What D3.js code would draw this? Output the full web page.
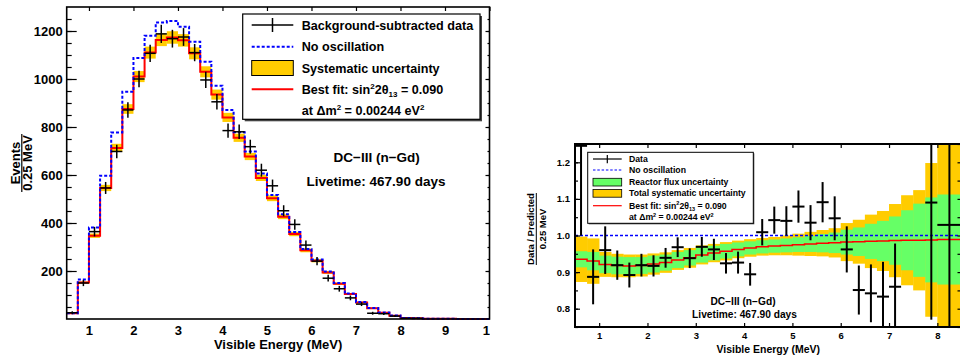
<!DOCTYPE html>
<html lang="en">
<head>
<meta charset="utf-8">
<title>DC-III (n-Gd) spectrum and ratio</title>
<script src="https://cdn.jsdelivr.net/npm/d3@7"></script>
<style>
  body { margin: 0; background: #fff; }
  svg { display: block; }
  text { font-family: "Liberation Sans", Arial, Helvetica, sans-serif; font-weight: bold; fill: #000; }
</style>
</head>
<body>
<script>
// ---- left panel: spectrum, 0.25 MeV bins ----
const leftEdges = [0.5, 0.75, 1, 1.25, 1.5, 1.75, 2, 2.25, 2.5, 2.75, 3, 3.25, 3.5, 3.75, 4, 4.25,
  4.5, 4.75, 5, 5.25, 5.5, 5.75, 6, 6.25, 6.5, 6.75, 7, 7.25, 7.5, 7.75, 8, 8.25, 8.5, 8.75,
  9, 9.25, 9.5, 9.75, 10];
const bestFit = [24, 152, 347, 546, 713, 875, 1010, 1110, 1163, 1173, 1161, 1107, 1030, 935, 840, 755,
  677, 588, 503, 426, 354, 286, 243, 194, 147, 104, 69, 45, 26, 14, 4, 3, 1, 1, 1, 0.5, 0.5, 0.5];
const noOsc = [24, 165, 381, 597, 777, 947, 1088, 1180, 1235, 1242, 1218, 1155, 1072, 972, 871, 778,
  698, 606, 517, 436, 362, 292, 248, 198, 150, 106, 71, 46, 27, 15, 4.5, 3, 1, 1, 1, 0.5, 0.5, 0.5];
const sysErr = [1, 4, 9, 13, 17, 20, 23, 25, 26, 26, 26, 25, 23, 21, 19, 17,
  15, 13, 12, 10, 9, 8, 7, 6, 5, 4, 3.5, 3, 2.5, 2, 1, 1, 0.5, 0.5, 0.5, 0.5, 0.5, 0.5];
const dataVals = [26, 150, 364, 546, 698, 871, 1000, 1107, 1188, 1168, 1175, 1110, 996, 905, 785, 780,
  718, 620, 555, 451, 394, 308, 241, 170, 126, 88, 62, 24, 22, 12, 3, 3, null, null, null, null, null, null];
const dataErr = [6, 13, 20, 25, 28, 32, 34, 36, 38, 37, 37, 36, 34, 32, 30, 30,
  29, 27, 26, 23, 22, 19, 17, 14, 12, 10, 8, 6, 5, 4, 2.5, 2, null, null, null, null, null, null];
const leftYTicks = [200, 400, 600, 800, 1000, 1200];
const leftXTicks = [1, 2, 3, 4, 5, 6, 7, 8, 9, 10];

// ---- right panel: ratio to no-oscillation prediction ----
const ratioEdges = [0.5, 0.75, 1, 1.25, 1.5, 1.75, 2, 2.25, 2.5, 2.75, 3, 3.25, 3.5, 3.75, 4, 4.25,
  4.5, 4.75, 5, 5.25, 5.5, 5.75, 6, 6.25, 6.5, 6.75, 7, 7.25, 7.5, 7.75, 8, 8.5];
const ratioFit = [0.935, 0.930, 0.921, 0.918, 0.917, 0.918, 0.922, 0.926, 0.933, 0.939, 0.947, 0.952,
  0.957, 0.962, 0.966, 0.969, 0.971, 0.973, 0.975, 0.977, 0.979, 0.980, 0.982, 0.983, 0.984, 0.985,
  0.986, 0.987, 0.987, 0.988, 0.989];
const fluxErr = [0.022, 0.025, 0.024, 0.024, 0.024, 0.023, 0.023, 0.022, 0.022, 0.021, 0.021, 0.020,
  0.020, 0.019, 0.018, 0.018, 0.018, 0.019, 0.020, 0.022, 0.025, 0.028, 0.034, 0.039, 0.048, 0.055,
  0.066, 0.082, 0.100, 0.116, 0.123];
const totalErr = [0.062, 0.062, 0.034, 0.032, 0.031, 0.030, 0.029, 0.028, 0.027, 0.027, 0.026, 0.025,
  0.025, 0.024, 0.024, 0.024, 0.025, 0.027, 0.030, 0.033, 0.036, 0.040, 0.052, 0.060, 0.073, 0.082,
  0.100, 0.123, 0.137, 0.210, 0.400];
const ratioData = [1.245, 0.887, 0.960, 0.919, 0.892, 0.919, 0.917, 0.939, 0.968, 0.938, 0.969, 0.962,
  0.924, 0.926, 0.894, 1.009, 1.042, 1.040, 1.079, 1.035, 1.091, 1.047, 0.962, 0.851, 0.842, 0.833,
  0.860, null, null, 1.090, 1.029];
const ratioErr = [0.245, 0.075, 0.065, 0.040, 0.034, 0.031, 0.029, 0.027, 0.027, 0.027, 0.027, 0.029,
  0.028, 0.030, 0.031, 0.036, 0.037, 0.040, 0.044, 0.048, 0.055, 0.060, 0.063, 0.067, 0.079, 0.095,
  0.118, null, null, 0.320, 0.400];
const rightYTicks = [0.8, 0.9, 1.0, 1.1, 1.2];
const rightXTicks = [1, 2, 3, 4, 5, 6, 7, 8];

const YELLOW = "#ffcc00", GREEN = "#66ff66", RED = "#ff0000", BLUE = "#0000ff";

const svg = d3.select("body").append("svg")
  .attr("width", 960)
  .attr("height", 358);

const defs = svg.append("defs");
defs.append("clipPath").attr("id", "clipLeftLabels")
  .append("rect").attr("x", 0).attr("y", 0).attr("width", 490).attr("height", 358);
defs.append("clipPath").attr("id", "clipRight")
  .append("rect").attr("x", 575).attr("y", 144).attr("width", 387).attr("height", 183);

// step outline of a histogram through the scales
function stepPath(edges, vals, x, y) {
  const pts = edges.map((e, i) => [e, vals[Math.min(i, vals.length - 1)]]);
  return d3.line().curve(d3.curveStepAfter).x(d => x(d[0])).y(d => y(d[1]))(pts);
}

function styleAxis(g, family, size) {
  g.select(".domain").remove();
  g.selectAll(".tick line").attr("stroke", "#000").attr("stroke-width", 1.2);
  g.attr("font-family", family).attr("font-size", size).attr("font-weight", "bold");
}

// ================= LEFT PANEL =================
const xL = d3.scaleLinear().domain([0.5, 10]).range([66.7, 489.5]);
const yL = d3.scaleLinear().domain([0, 1300]).range([319, 7]);
const gL = svg.append("g");

const binsL = bestFit.map((v, i) => ({
  lo: leftEdges[i], hi: leftEdges[i + 1], fit: v, sys: sysErr[i], data: dataVals[i], err: dataErr[i]
}));

gL.selectAll("rect.sys")
  .data(binsL)
  .enter()
  .append("rect")
  .attr("class", "sys")
  .attr("x", d => xL(d.lo))
  .attr("width", d => xL(d.hi) - xL(d.lo))
  .attr("y", d => yL(d.fit + d.sys))
  .attr("height", d => yL(d.fit - d.sys) - yL(d.fit + d.sys))
  .attr("fill", YELLOW);

gL.append("path")
  .attr("d", stepPath(leftEdges, bestFit, xL, yL))
  .attr("fill", "none").attr("stroke", RED).attr("stroke-width", 2);

gL.append("path")
  .attr("d", stepPath(leftEdges, noOsc, xL, yL))
  .attr("fill", "none").attr("stroke", BLUE).attr("stroke-width", 2)
  .attr("stroke-dasharray", "3,2");

// data crosses
const crossL = gL.selectAll("g.pt")
  .data(binsL.filter(d => d.data !== null))
  .enter()
  .append("g").attr("class", "pt");
crossL.append("line")
  .attr("x1", d => xL(d.lo)).attr("x2", d => xL(d.hi))
  .attr("y1", d => yL(d.data)).attr("y2", d => yL(d.data))
  .attr("stroke", "#000").attr("stroke-width", 1.5);
crossL.append("line")
  .attr("x1", d => xL((d.lo + d.hi) / 2)).attr("x2", d => xL((d.lo + d.hi) / 2))
  .attr("y1", d => yL(d.data - d.err)).attr("y2", d => yL(d.data + d.err))
  .attr("stroke", "#000").attr("stroke-width", 1.5);

// axes (ROOT style: ticks inside, on all four sides)
gL.append("g").attr("transform", `translate(${xL(0.5)},0)`)
  .call(d3.axisLeft(yL).tickValues(d3.range(50, 1300, 50)).tickSize(-5).tickFormat(""))
  .call(g => styleAxis(g, "DejaVu Sans", 13));
gL.append("g").attr("transform", `translate(${xL(0.5)},0)`)
  .call(d3.axisLeft(yL).tickValues(leftYTicks).tickSize(-10).tickPadding(4).tickFormat(d3.format("d")))
  .call(g => styleAxis(g, "DejaVu Sans", 13));
gL.append("g").attr("transform", `translate(${xL(10)},0)`)
  .call(d3.axisRight(yL).tickValues(d3.range(50, 1300, 50)).tickSize(-2).tickFormat(""))
  .call(g => styleAxis(g, "DejaVu Sans", 13));
gL.append("g").attr("transform", `translate(${xL(10)},0)`)
  .call(d3.axisRight(yL).tickValues(leftYTicks).tickSize(-4).tickFormat(""))
  .call(g => styleAxis(g, "DejaVu Sans", 13));
gL.append("g").attr("transform", `translate(0,${yL(1300)})`)
  .call(d3.axisTop(xL).tickValues(leftXTicks).tickSize(-4).tickFormat(""))
  .call(g => styleAxis(g, "DejaVu Sans", 13));
gL.append("g").attr("transform", `translate(0,${yL(0)})`)
  .attr("clip-path", "url(#clipLeftLabels)")
  .call(d3.axisBottom(xL).tickValues(leftXTicks).tickSize(-4).tickPadding(7).tickFormat(d3.format("d")))
  .call(g => styleAxis(g, "DejaVu Sans", 13));

gL.append("rect")
  .attr("x", xL(0.5)).attr("y", yL(1300))
  .attr("width", xL(10) - xL(0.5)).attr("height", yL(0) - yL(1300))
  .attr("fill", "none").attr("stroke", "#000").attr("stroke-width", 1.6);

// axis titles
gL.append("text").attr("x", (xL(0.5) + xL(10)) / 2).attr("y", 349)
  .attr("text-anchor", "middle").attr("font-size", 13).text("Visible Energy (MeV)");
const ytL = gL.append("g").attr("transform", "translate(0,163) rotate(-90)");
ytL.append("text").attr("x", 0).attr("y", 20).attr("text-anchor", "middle")
  .attr("font-size", 13).text("Events");
ytL.append("line").attr("x1", -29).attr("x2", 29).attr("y1", 21.8).attr("y2", 21.8)
  .attr("stroke", "#000").attr("stroke-width", 1.2);
ytL.append("text").attr("x", 0).attr("y", 32).attr("text-anchor", "middle")
  .attr("font-size", 13).text("0.25 MeV");

gL.append("text").attr("x", 376.7).attr("y", 161.5).attr("text-anchor", "middle")
  .attr("font-size", 13.5).text("DC\u2212III (n\u2212Gd)");
gL.append("text").attr("x", 376).attr("y", 185.5).attr("text-anchor", "middle")
  .attr("font-size", 13.5).text("Livetime: 467.90 days");

// legend
const lgL = gL.append("g");
lgL.append("rect").attr("x", 244.7).attr("y", 16).attr("width", 237.3).attr("height", 105.3).attr("fill", "#444");
lgL.append("rect").attr("x", 242.7).attr("y", 14).attr("width", 237.3).attr("height", 105.3)
  .attr("fill", "#fff").attr("stroke", "#000").attr("stroke-width", 1.2);
lgL.append("line").attr("x1", 251.7).attr("x2", 293.3).attr("y1", 25).attr("y2", 25).attr("stroke", "#000").attr("stroke-width", 1.5);
lgL.append("line").attr("x1", 272.5).attr("x2", 272.5).attr("y1", 18).attr("y2", 32).attr("stroke", "#000").attr("stroke-width", 1.5);
lgL.append("line").attr("x1", 251.7).attr("x2", 293.3).attr("y1", 46.7).attr("y2", 46.7)
  .attr("stroke", BLUE).attr("stroke-width", 2).attr("stroke-dasharray", "3,2");
lgL.append("rect").attr("x", 251.7).attr("y", 60.5).attr("width", 41.6).attr("height", 15)
  .attr("fill", YELLOW).attr("stroke", "#000").attr("stroke-width", 1);
lgL.append("line").attr("x1", 251.7).attr("x2", 293.3).attr("y1", 89.3).attr("y2", 89.3).attr("stroke", RED).attr("stroke-width", 2);

const lx = 301.7, lfs = 12.6;
lgL.append("text").attr("x", lx).attr("y", 29.5).attr("font-size", lfs).text("Background-subtracted data");
lgL.append("text").attr("x", lx).attr("y", 51.2).attr("font-size", lfs).text("No oscillation");
lgL.append("text").attr("x", lx).attr("y", 72.8).attr("font-size", lfs).text("Systematic uncertainty");
const bf = lgL.append("text").attr("x", lx).attr("y", 93.8).attr("font-size", lfs);
bf.append("tspan").text("Best fit: sin");
bf.append("tspan").attr("dy", -5).attr("font-size", 8).text("2");
bf.append("tspan").attr("dy", 5).text("2\u03b8");
bf.append("tspan").attr("dy", 3).attr("font-size", 8).text("13");
bf.append("tspan").attr("dy", -3).text(" = 0.090");
const dm = lgL.append("text").attr("x", lx).attr("y", 114.5).attr("font-size", lfs);
dm.append("tspan").text("at  \u0394m");
dm.append("tspan").attr("dy", -5).attr("font-size", 8).text("2");
dm.append("tspan").attr("dy", 5).text(" = 0.00244 eV");
dm.append("tspan").attr("dy", -5).attr("font-size", 8).text("2");

// ================= RIGHT PANEL =================
const xR = d3.scaleLinear().domain([0.5, 8.5]).range([575, 961.5]);
const yR = d3.scaleLinear().domain([0.75, 1.25]).range([327, 144]);
const gR = svg.append("g");
const plotR = gR.append("g").attr("clip-path", "url(#clipRight)");

const binsR = ratioFit.map((v, i) => ({
  lo: ratioEdges[i], hi: ratioEdges[i + 1], fit: v, flux: fluxErr[i], tot: totalErr[i],
  data: ratioData[i], err: ratioErr[i]
}));

function bandRects(cls, key, color) {
  plotR.selectAll("rect." + cls)
    .data(binsR)
    .enter()
    .append("rect")
    .attr("class", cls)
    .attr("x", d => xR(d.lo))
    .attr("width", d => xR(d.hi) - xR(d.lo) + 0.3)
    .attr("y", d => yR(d.fit + d[key]))
    .attr("height", d => yR(d.fit - d[key]) - yR(d.fit + d[key]))
    .attr("fill", color);
}
bandRects("tot", "tot", YELLOW);
bandRects("flux", "flux", GREEN);

plotR.append("path")
  .attr("d", stepPath(ratioEdges, ratioFit, xR, yR))
  .attr("fill", "none").attr("stroke", RED).attr("stroke-width", 1.5);

plotR.append("line")
  .attr("x1", xR(0.5)).attr("x2", xR(8.5)).attr("y1", yR(1)).attr("y2", yR(1))
  .attr("stroke", BLUE).attr("stroke-width", 1.5).attr("stroke-dasharray", "3,2");

const crossR = plotR.selectAll("g.pt")
  .data(binsR.filter(d => d.data !== null))
  .enter()
  .append("g").attr("class", "pt");
crossR.append("line")
  .attr("x1", d => xR(d.lo)).attr("x2", d => xR(d.hi))
  .attr("y1", d => yR(d.data)).attr("y2", d => yR(d.data))
  .attr("stroke", "#000").attr("stroke-width", 2);
crossR.append("line")
  .attr("x1", d => xR((d.lo + d.hi) / 2)).attr("x2", d => xR((d.lo + d.hi) / 2))
  .attr("y1", d => yR(d.data - d.err)).attr("y2", d => yR(d.data + d.err))
  .attr("stroke", "#000").attr("stroke-width", 2);

const monoFam = "Liberation Mono";
gR.append("g").attr("transform", `translate(${xR(0.5)},0)`)
  .call(d3.axisLeft(yR).tickValues(d3.range(0.75, 1.26, 0.05)).tickSize(-3).tickFormat(""))
  .call(g => styleAxis(g, monoFam, 9.5));
gR.append("g").attr("transform", `translate(${xR(0.5)},0)`)
  .call(d3.axisLeft(yR).tickValues(rightYTicks).tickSize(-5).tickPadding(5).tickFormat(d3.format(".1f")))
  .call(g => styleAxis(g, monoFam, 9.5));
gR.append("g").attr("transform", `translate(${xR(8.5)},0)`)
  .call(d3.axisRight(yR).tickValues(d3.range(0.75, 1.26, 0.05)).tickSize(-4).tickFormat(""))
  .call(g => styleAxis(g, monoFam, 9.5));
gR.append("g").attr("transform", `translate(0,${yR(1.25)})`)
  .call(d3.axisTop(xR).tickValues(rightXTicks).tickSize(-4).tickFormat(""))
  .call(g => styleAxis(g, monoFam, 9.5));
gR.append("g").attr("transform", `translate(0,${yR(0.75)})`)
  .call(d3.axisBottom(xR).tickValues(rightXTicks).tickSize(-4).tickPadding(5).tickFormat(d3.format("d")))
  .call(g => styleAxis(g, monoFam, 9.5));

gR.append("rect")
  .attr("x", xR(0.5)).attr("y", yR(1.25))
  .attr("width", xR(8.5) - xR(0.5)).attr("height", yR(0.75) - yR(1.25))
  .attr("fill", "none").attr("stroke", "#000").attr("stroke-width", 2);

gR.append("text").attr("x", (xR(0.5) + xR(8.5)) / 2).attr("y", 352.5)
  .attr("text-anchor", "middle").attr("font-size", 10.5).text("Visible Energy (MeV)");
const ytR = gR.append("g").attr("transform", "translate(0,229) rotate(-90)");
ytR.append("text").attr("x", 0).attr("y", 534).attr("text-anchor", "middle")
  .attr("font-size", 9.5).text("Data / Predicted");
ytR.append("line").attr("x1", -36).attr("x2", 36).attr("y1", 536.3).attr("y2", 536.3)
  .attr("stroke", "#000").attr("stroke-width", 1);
ytR.append("text").attr("x", 0).attr("y", 545.5).attr("text-anchor", "middle")
  .attr("font-size", 9.5).text("0.25 MeV");

gR.append("text").attr("x", 743).attr("y", 305.3).attr("text-anchor", "middle")
  .attr("font-size", 10.2).text("DC\u2212III (n\u2212Gd)");
gR.append("text").attr("x", 744.5).attr("y", 317.8).attr("text-anchor", "middle")
  .attr("font-size", 10.2).text("Livetime: 467.90 days");

// legend
const lgR = gR.append("g");
lgR.append("rect").attr("x", 588.7).attr("y", 153.3).attr("width", 165.6).attr("height", 71).attr("fill", "#444");
lgR.append("rect").attr("x", 587.7).attr("y", 152.3).attr("width", 165.6).attr("height", 71)
  .attr("fill", "#fff").attr("stroke", "#000").attr("stroke-width", 1);
lgR.append("line").attr("x1", 593).attr("x2", 621.7).attr("y1", 159).attr("y2", 159).attr("stroke", "#000").attr("stroke-width", 1.2);
lgR.append("line").attr("x1", 607.3).attr("x2", 607.3).attr("y1", 155).attr("y2", 163.3).attr("stroke", "#000").attr("stroke-width", 1.2);
lgR.append("line").attr("x1", 593).attr("x2", 621.7).attr("y1", 170).attr("y2", 170)
  .attr("stroke", BLUE).attr("stroke-width", 1.2).attr("stroke-dasharray", "2.5,1.8");
lgR.append("rect").attr("x", 593).attr("y", 178.3).attr("width", 28.7).attr("height", 7.7)
  .attr("fill", GREEN).attr("stroke", "#000").attr("stroke-width", 0.8);
lgR.append("rect").attr("x", 593).attr("y", 189.5).attr("width", 28.7).attr("height", 7.7)
  .attr("fill", YELLOW).attr("stroke", "#000").attr("stroke-width", 0.8);
lgR.append("line").attr("x1", 593).attr("x2", 621.7).attr("y1", 205.7).attr("y2", 205.7).attr("stroke", RED).attr("stroke-width", 1.2);

const rx = 629, rfs = 8.7;
lgR.append("text").attr("x", rx).attr("y", 162).attr("font-size", rfs).text("Data");
lgR.append("text").attr("x", rx).attr("y", 173).attr("font-size", rfs).text("No oscillation");
lgR.append("text").attr("x", rx).attr("y", 184.7).attr("font-size", rfs).text("Reactor flux uncertainty");
lgR.append("text").attr("x", rx).attr("y", 196.3).attr("font-size", rfs).text("Total systematic uncertainty");
const bfR = lgR.append("text").attr("x", rx).attr("y", 208.7).attr("font-size", rfs);
bfR.append("tspan").text("Best fit: sin");
bfR.append("tspan").attr("dy", -3.5).attr("font-size", 5.5).text("2");
bfR.append("tspan").attr("dy", 3.5).text("2\u03b8");
bfR.append("tspan").attr("dy", 2).attr("font-size", 5.5).text("13");
bfR.append("tspan").attr("dy", -2).text(" = 0.090");
const dmR = lgR.append("text").attr("x", rx).attr("y", 220.3).attr("font-size", rfs);
dmR.append("tspan").text("at  \u0394m");
dmR.append("tspan").attr("dy", -3.5).attr("font-size", 5.5).text("2");
dmR.append("tspan").attr("dy", 3.5).text(" = 0.00244 eV");
dmR.append("tspan").attr("dy", -3.5).attr("font-size", 5.5).text("2");
</script>
</body>
</html>
